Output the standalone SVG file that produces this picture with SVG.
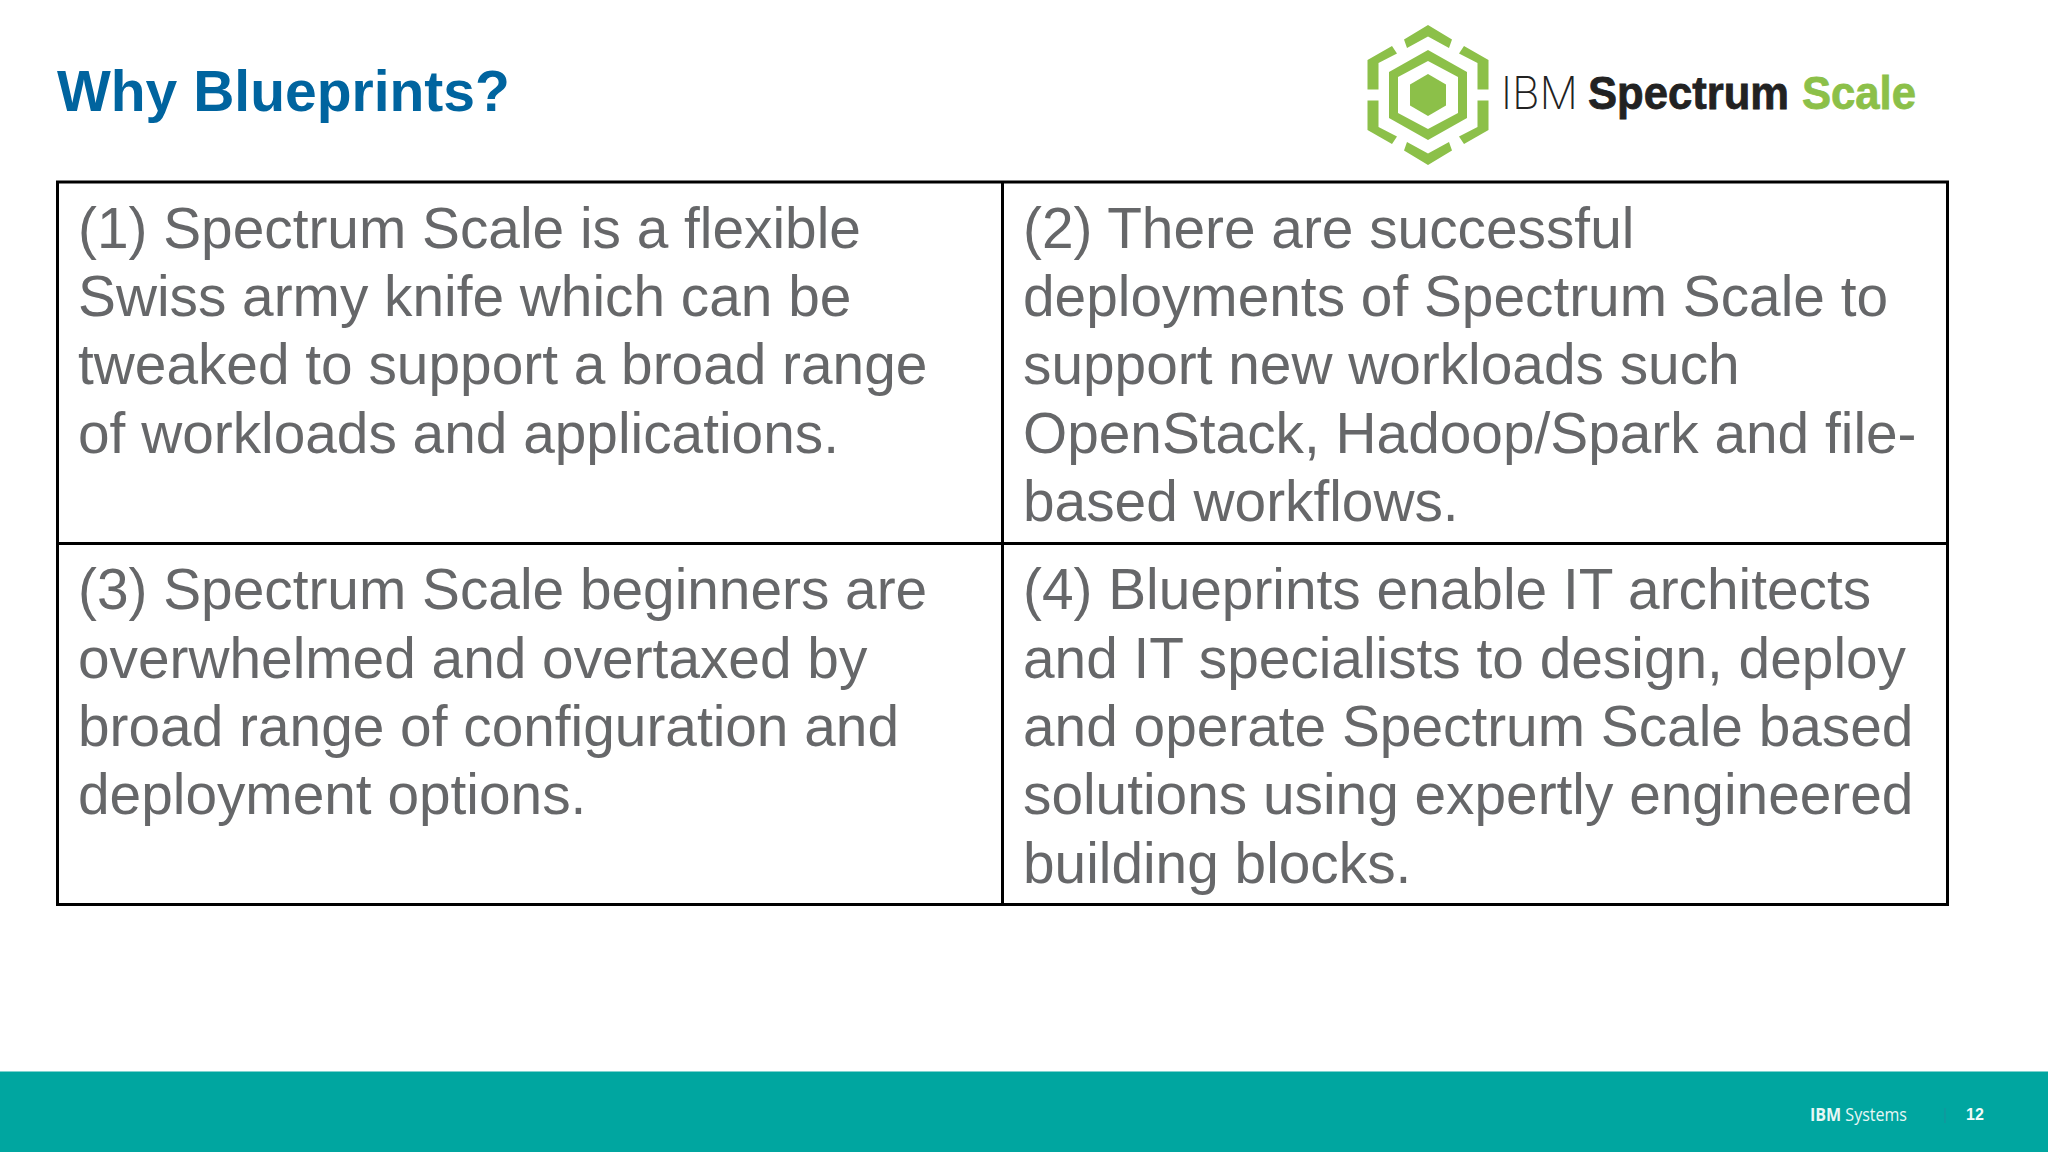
<svg xmlns="http://www.w3.org/2000/svg" width="2048" height="1152" viewBox="0 0 2048 1152">
<style>
.t{font-family:"Liberation Sans",Arial,sans-serif;font-size:56.8px;fill:#666769}
.g{fill:#8cc049}
.ln{stroke:#000;stroke-width:3;fill:none}
</style>
<rect width="2048" height="1152" fill="#fff"/>
<text id="title" x="57" y="111" font-family="'Liberation Sans',Arial,sans-serif" font-weight="700" font-size="57px" fill="#00649f">Why Blueprints?</text>
<g id="logo">
<path class="g" d="M1428 25L1452 39.5L1449 48L1428 36.5L1407 48L1404 39.500ZM1392 46L1397 53.500L1378.500 63V89.500H1367.500V60ZM1464 46L1459 53.500L1477.500 63V89.500H1488.500V60ZM1367.500 100.500H1378.500V127L1397 136.500L1392 144L1367.500 130ZM1488.500 100.500H1477.500V127L1459 136.500L1464 144L1488.500 130ZM1404 150.500L1407 142L1428 153.500L1449 142L1452 150.500L1428 165Z"/>
<path class="g" fill-rule="evenodd" d="M1428 50L1467 72V118L1428 140L1389 118V72ZM1428 61L1398 77V113L1428 129L1458 113V77Z"/>
<path class="g" d="M1428 74L1446 84.500V105.500L1428 116L1410 105.500V84.500Z"/>
<text x="1501" y="109" font-family="Inter,'Liberation Sans',sans-serif" font-weight="200" font-size="45px" fill="#222" textLength="77" lengthAdjust="spacingAndGlyphs">IBM</text>
<text x="1588" y="109" font-family="'Liberation Sans',Arial,sans-serif" font-weight="700" font-size="46px" fill="#222" stroke="#222" stroke-width="0.8" textLength="201" lengthAdjust="spacingAndGlyphs">Spectrum</text>
<text x="1802" y="109" font-family="'Liberation Sans',Arial,sans-serif" font-weight="700" font-size="46px" fill="#8cc049" stroke="#8cc049" stroke-width="0.8" textLength="114" lengthAdjust="spacingAndGlyphs">Scale</text>
</g>
<g id="table">
<rect class="ln" x="57.500" y="182" width="1890" height="722.500"/>
<path class="ln" d="M1002.500 182V904.500M57.500 543.500H1947.500"/>
</g>
<g id="cell1">
<text class="t" x="78" y="248">(1) Spectrum Scale is a flexible</text>
<text class="t" x="78" y="316">Swiss army knife which can be</text>
<text class="t" x="78" y="384">tweaked to support a broad range</text>
<text class="t" x="78" y="452.500">of workloads and applications.</text>
</g>
<g id="cell2">
<text class="t" x="1023" y="248">(2) There are successful</text>
<text class="t" x="1023" y="316">deployments of Spectrum Scale to</text>
<text class="t" x="1023" y="384">support new workloads such</text>
<text class="t" x="1023" y="452.500">OpenStack, Hadoop/Spark and file-</text>
<text class="t" x="1023" y="521">based workflows.</text>
</g>
<g id="cell3">
<text class="t" x="78" y="609">(3) Spectrum Scale beginners are</text>
<text class="t" x="78" y="678">overwhelmed and overtaxed by</text>
<text class="t" x="78" y="746">broad range of configuration and</text>
<text class="t" x="78" y="814">deployment options.</text>
</g>
<g id="cell4">
<text class="t" x="1023" y="609">(4) Blueprints enable IT architects</text>
<text class="t" x="1023" y="678">and IT specialists to design, deploy</text>
<text class="t" x="1023" y="746">and operate Spectrum Scale based</text>
<text class="t" x="1023" y="814">solutions using expertly engineered</text>
<text class="t" x="1023" y="883">building blocks.</text>
</g>
<g id="footer">
<rect x="0" y="1071.500" width="2048" height="80.500" fill="#00a6a0"/>
<text x="1810" y="1120.500" font-family="'Open Sans',sans-serif" font-size="18px" fill="#e8f7f6" textLength="97" lengthAdjust="spacingAndGlyphs"><tspan font-weight="700">IBM</tspan> Systems</text>
<path d="M1945 1108V1123" stroke="#1a8f9c" stroke-width="1"/>
<text x="1966" y="1120" font-family="'Liberation Sans',Arial,sans-serif" font-weight="700" font-size="16px" fill="#f2fbfa">12</text>
</g>
</svg>
